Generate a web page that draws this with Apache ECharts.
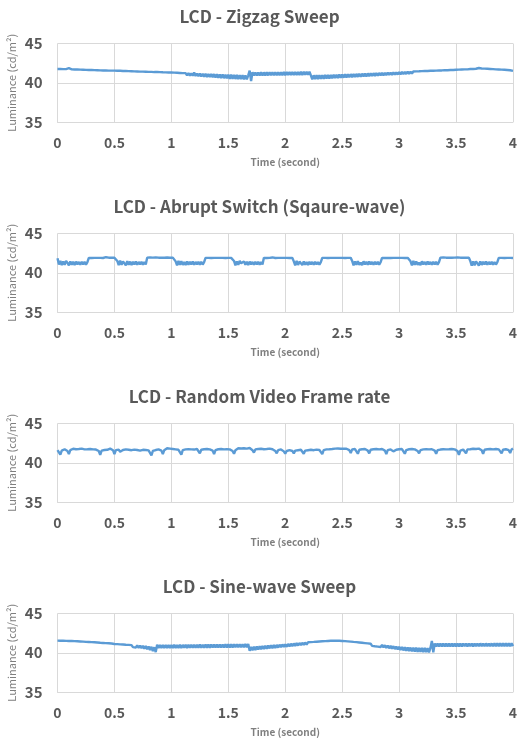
<!DOCTYPE html>
<html>
<head>
<meta charset="utf-8">
<script src="https://cdn.jsdelivr.net/npm/echarts@6/dist/echarts.min.js"></script>
<style>
  html, body { margin: 0; padding: 0; background: #fff; overflow: hidden; }
  #chart { width: 519px; height: 743px; }
</style>
</head>
<body>
<div id="chart"></div>
<script>
// luminance samples, one every 0.0125 s from 0 to 4 s
let sampleStep = 0.0125;

let panelTitles = ['LCD - Zigzag Sweep', 'LCD - Abrupt Switch (Sqaure-wave)', 'LCD - Random Video Frame rate', 'LCD - Sine-wave Sweep'];
let yTicks = [35, 40, 45];
let xTicks = [0, 0.5, 1, 1.5, 2, 2.5, 3, 3.5, 4];

let zigzag = [
  41.76, 41.68, 41.75, 41.67, 41.74, 41.66, 41.73, 41.65, 41.85, 41.64,
  41.70, 41.62, 41.69, 41.61, 41.68, 41.60, 41.67, 41.59, 41.66, 41.57,
  41.64, 41.56, 41.63, 41.55, 41.62, 41.54, 41.61, 41.53, 41.60, 41.51,
  41.58, 41.50, 41.57, 41.49, 41.56, 41.48, 41.55, 41.47, 41.54, 41.45,
  41.54, 41.42, 41.53, 41.41, 41.52, 41.39, 41.50, 41.38, 41.49, 41.36,
  41.48, 41.34, 41.47, 41.33, 41.45, 41.31, 41.44, 41.29, 41.42, 41.28,
  41.42, 41.26, 41.41, 41.25, 41.39, 41.23, 41.38, 41.22, 41.36, 41.20,
  41.36, 41.18, 41.35, 41.17, 41.33, 41.15, 41.32, 41.13, 41.30, 41.12,
  41.30, 41.10, 41.29, 41.07, 41.27, 41.04, 41.25, 41.02, 41.23, 40.99,
  41.23, 40.95, 41.22, 40.92, 41.20, 40.90, 41.30, 40.87, 41.16, 40.84,
  41.16, 40.80, 41.15, 40.78, 41.13, 40.75, 41.12, 40.72, 41.10, 40.70,
  41.10, 40.67, 41.09, 40.64, 41.07, 40.61, 41.06, 40.58, 41.04, 40.55,
  41.03, 40.51, 41.02, 40.50, 41.01, 40.48, 41.00, 40.46, 40.98, 40.45,
  40.96, 40.43, 40.95, 40.42, 40.94, 41.55, 40.22, 41.35, 40.92, 41.32,
  40.93, 41.32, 40.92, 41.33, 40.93, 41.32, 40.94, 41.33, 40.94, 41.34,
  40.95, 41.34, 40.95, 41.35, 40.96, 41.34, 40.96, 41.35, 40.97, 41.36,
  40.97, 41.36, 40.98, 41.37, 40.98, 41.37, 40.99, 41.38, 40.99, 41.38,
  41.00, 41.39, 41.00, 41.40, 41.01, 41.40, 41.02, 41.41, 41.40, 40.45,
  40.95, 40.47, 40.96, 40.48, 40.97, 40.50, 40.98, 40.51, 40.99, 40.53,
  40.99, 40.55, 41.00, 40.57, 41.02, 40.59, 41.03, 40.61, 41.04, 40.63,
  41.05, 40.65, 41.07, 40.67, 41.08, 40.69, 41.10, 40.71, 41.11, 40.73,
  41.13, 40.75, 41.14, 40.77, 41.16, 40.79, 41.17, 40.81, 41.19, 40.83,
  41.20, 40.86, 41.22, 40.88, 41.23, 40.90, 41.25, 40.92, 41.26, 40.94,
  41.27, 40.97, 41.29, 40.99, 41.30, 41.01, 41.32, 41.03, 41.33, 41.05,
  41.36, 41.08, 41.37, 41.10, 41.39, 41.12, 41.40, 41.14, 41.42, 41.16,
  41.43, 41.19, 41.45, 41.21, 41.46, 41.23, 41.48, 41.25, 41.49, 41.27,
  41.50, 41.30, 41.52, 41.32, 41.53, 41.34, 41.55, 41.36, 41.56, 41.38,
  41.57, 41.39, 41.59, 41.41, 41.60, 41.43, 41.62, 41.45, 41.63, 41.47,
  41.66, 41.50, 41.67, 41.52, 41.69, 41.54, 41.70, 41.56, 41.71, 41.58,
  41.75, 41.61, 41.76, 41.63, 41.78, 41.65, 41.88, 41.68, 41.82, 41.70,
  41.80, 41.68, 41.78, 41.66, 41.76, 41.64, 41.74, 41.62, 41.71, 41.59,
  41.69, 41.57, 41.67, 41.55, 41.65, 41.53, 41.62, 41.50, 41.59, 41.47,
  41.52
];

let squareWave = [
  41.85, 41.05, 41.50, 40.98, 41.45, 41.00, 41.52, 41.25, 40.95, 41.45, 41.02, 41.40, 41.00, 41.42, 41.05, 41.38, 41.02, 41.40, 41.05, 41.38, 41.04, 41.36,
  41.90, 41.93, 41.88, 41.92, 41.90, 41.95, 41.89, 41.92, 41.90, 41.93, 41.88, 41.92, 41.98, 41.90, 41.92, 41.89, 41.93, 41.90, 41.92, 41.88,
  41.50, 40.98, 41.55, 41.00, 41.45, 41.30, 40.95, 41.48, 41.02, 41.42, 41.00, 41.40, 41.05, 41.42, 41.02, 41.38, 41.05, 41.40, 41.03, 41.36, 41.05,
  41.92, 41.90, 41.95, 41.88, 41.92, 41.90, 41.96, 41.90, 41.92, 41.88, 41.93, 41.90, 41.92, 41.89, 41.94, 41.90, 41.92, 41.88, 41.93, 41.90,
  41.45, 40.95, 41.50, 41.02, 41.48, 41.00, 41.35, 40.98, 41.45, 41.02, 41.40, 41.05, 41.42, 41.02, 41.38, 41.05, 41.40, 41.04, 41.38, 41.05, 41.35,
  41.90, 41.93, 41.90, 41.95, 41.88, 41.92, 41.90, 41.93, 41.89, 41.92, 41.90, 41.97, 41.90, 41.92, 41.88, 41.93, 41.90, 41.92, 41.90, 41.93,
  41.50, 40.95, 41.45, 41.00, 41.52, 41.20, 40.98, 41.45, 41.02, 41.40, 41.00, 41.42, 41.05, 41.38, 41.02, 41.40, 41.05, 41.38, 41.03, 41.36, 41.05,
  41.90, 41.92, 41.88, 41.93, 41.90, 41.92, 41.95, 41.90, 41.88, 41.92, 41.90, 41.93, 41.89, 41.92, 41.90, 41.96, 41.90, 41.92, 41.88, 41.93, 41.90,
  41.45, 40.95, 41.50, 41.00, 41.42, 41.25, 40.98, 41.45, 41.02, 41.38, 41.00, 41.40, 41.05, 41.38, 41.02, 41.40, 41.05, 41.36, 41.04, 41.35,
  41.90, 41.92, 41.90, 41.95, 41.88, 41.92, 41.90, 41.93, 41.90, 41.92, 41.89, 41.93, 41.90, 41.97, 41.90, 41.92, 41.88, 41.93, 41.90, 41.92, 41.90,
  41.50, 40.95, 41.45, 41.00, 41.48, 41.02, 41.30, 40.98, 41.45, 41.05, 41.40, 41.02, 41.42, 41.05, 41.38, 41.02, 41.40, 41.05, 41.38, 41.04, 41.35,
  41.90, 41.93, 41.88, 41.92, 41.90, 41.95, 41.88, 41.92, 41.90, 41.93, 41.89, 41.92, 41.90, 41.96, 41.90, 41.92, 41.88, 41.93, 41.90, 41.92,
  41.45, 40.95, 41.50, 41.00, 41.45, 41.02, 41.28, 40.98, 41.45, 41.05, 41.38, 41.02, 41.42, 41.05, 41.38, 41.02, 41.40, 41.05, 41.38, 41.04, 41.35,
  41.92, 41.90, 41.95, 41.88, 41.92, 41.90, 41.93, 41.90, 41.92, 41.88, 41.93, 41.90, 41.96, 41.89, 41.92, 41.90, 41.93, 41.88, 41.92, 41.90, 41.93,
  41.50, 40.90, 41.45, 40.95, 41.45, 41.20, 40.92, 41.45, 41.00, 41.40, 41.05, 41.42, 41.02, 41.38, 41.05, 41.40, 41.03, 41.36, 41.05, 41.35,
  41.90, 41.93, 41.90, 41.92, 41.88, 41.93, 41.90, 41.92, 41.89, 41.90, 41.88
];

let randomRate = [
  41.60, 41.70, 41.05, 41.55, 41.65, 41.72, 41.60, 41.50, 41.10, 41.60,
  41.70, 41.78, 41.65, 41.72, 41.60, 41.75, 41.68, 41.80, 41.62, 41.70,
  41.58, 41.72, 41.65, 41.75, 41.60, 41.70, 41.55, 41.68, 41.62, 41.50,
  41.00, 41.55, 41.70, 41.62, 41.78, 41.65, 41.72, 41.80, 41.68, 41.60,
  41.10, 41.60, 41.75, 41.68, 41.40, 41.15, 41.62, 41.75, 41.70, 41.78,
  41.65, 41.72, 41.60, 41.75, 41.68, 41.80, 41.62, 41.70, 41.55, 41.72,
  41.65, 41.78, 41.62, 41.70, 41.58, 41.40, 40.95, 41.50, 41.70, 41.62,
  41.78, 41.70, 41.82, 41.55, 41.10, 41.60, 41.78, 41.85, 41.72, 41.80,
  41.88, 41.75, 41.82, 41.70, 41.80, 41.65, 41.45, 41.05, 41.60, 41.75,
  41.70, 41.82, 41.72, 41.85, 41.70, 41.78, 41.68, 41.82, 41.75, 41.60,
  41.20, 41.65, 41.80, 41.72, 41.85, 41.75, 41.82, 41.70, 41.80, 41.55,
  41.10, 41.60, 41.80, 41.72, 41.88, 41.75, 41.82, 41.70, 41.85, 41.72,
  41.80, 41.70, 41.78, 41.50, 41.15, 41.60, 41.78, 41.85, 41.72, 41.82,
  41.70, 41.85, 41.75, 41.80, 41.72, 41.88, 41.78, 41.60, 41.30, 41.70,
  41.82, 41.75, 41.88, 41.78, 41.85, 41.72, 41.82, 41.75, 41.88, 41.80,
  41.85, 41.72, 41.80, 41.50, 41.20, 41.60, 41.78, 41.70, 41.60, 41.45,
  41.15, 41.50, 41.70, 41.60, 41.72, 41.50, 41.20, 41.55, 41.68, 41.60,
  41.72, 41.65, 41.50, 41.15, 41.55, 41.70, 41.60, 41.75, 41.65, 41.72,
  41.60, 41.78, 41.68, 41.75, 41.62, 41.45, 41.10, 41.60, 41.75, 41.70,
  41.82, 41.72, 41.85, 41.75, 41.88, 41.80, 41.92, 41.82, 41.88, 41.78,
  41.90, 41.80, 41.88, 41.78, 41.85, 41.60, 41.25, 41.70, 41.82, 41.75,
  41.50, 41.15, 41.65, 41.80, 41.72, 41.85, 41.75, 41.82, 41.55, 41.20,
  41.65, 41.80, 41.72, 41.85, 41.75, 41.82, 41.70, 41.85, 41.75, 41.80,
  41.55, 41.10, 41.60, 41.78, 41.70, 41.75, 41.45, 41.20, 41.65, 41.80,
  41.72, 41.85, 41.75, 41.60, 41.15, 41.62, 41.80, 41.72, 41.85, 41.75,
  41.82, 41.70, 41.78, 41.50, 41.20, 41.60, 41.78, 41.70, 41.85, 41.72,
  41.80, 41.70, 41.85, 41.72, 41.78, 41.55, 41.15, 41.60, 41.75, 41.68,
  41.82, 41.72, 41.85, 41.70, 41.80, 41.72, 41.85, 41.75, 41.82, 41.70,
  41.80, 41.50, 41.00, 41.55, 41.75, 41.68, 41.45, 41.20, 41.70, 41.80,
  41.72, 41.88, 41.78, 41.85, 41.75, 41.88, 41.80, 41.85, 41.60, 41.15,
  41.65, 41.80, 41.72, 41.85, 41.75, 41.82, 41.70, 41.85, 41.75, 41.82,
  41.70, 41.50, 41.20, 41.65, 41.80, 41.72, 41.85, 41.60, 41.25, 41.70,
  41.82
];

let sineSweep = [
  41.54, 41.47, 41.53, 41.46, 41.52, 41.45, 41.51, 41.44, 41.50, 41.43,
  41.49, 41.39, 41.48, 41.37, 41.46, 41.35, 41.44, 41.33, 41.42, 41.30,
  41.38, 41.27, 41.37, 41.25, 41.35, 41.22, 41.33, 41.20, 41.31, 41.16,
  41.27, 41.12, 41.25, 41.09, 41.23, 41.06, 41.21, 41.03, 41.18, 41.00,
  41.12, 40.93, 41.10, 40.90, 41.07, 40.87, 41.05, 40.84, 41.02, 40.80,
  41.00, 40.75, 40.97, 40.71, 40.95, 40.67, 40.93, 40.63, 40.90, 40.58,
  40.88, 40.52, 40.85, 40.45, 40.80, 40.35, 40.75, 40.20, 40.70, 40.08,
  41.02, 40.60, 41.00, 40.62, 41.00, 40.60, 40.98, 40.62, 41.00, 40.60,
  41.00, 40.62, 41.02, 40.60, 41.00, 40.62, 41.02, 40.62, 41.00, 40.63,
  41.02, 40.62, 41.02, 40.63, 41.03, 40.63, 41.02, 40.64, 41.03, 40.64,
  41.04, 40.64, 41.03, 40.65, 41.04, 40.65, 41.05, 40.65, 41.04, 40.66,
  41.05, 40.66, 41.06, 40.66, 41.05, 40.67, 41.06, 40.67, 41.07, 40.67,
  41.07, 40.68, 41.08, 40.68, 41.07, 40.69, 41.08, 40.69, 41.09, 40.69,
  41.09, 40.70, 41.10, 40.70, 41.10, 40.25, 40.75, 40.30, 40.78, 40.35,
  40.80, 40.40, 40.83, 40.44, 40.86, 40.48, 40.90, 40.52, 40.93, 40.56,
  40.95, 40.58, 40.98, 40.62, 41.00, 40.66, 41.03, 40.70, 41.06, 40.74,
  41.08, 40.76, 41.12, 40.80, 41.15, 40.84, 41.18, 40.88, 41.22, 40.92,
  41.24, 40.96, 41.27, 41.00, 41.30, 41.04, 41.33, 41.08, 41.36, 41.12,
  41.38, 41.15, 41.41, 41.19, 41.44, 41.22, 41.46, 41.26, 41.48, 41.30,
  41.50, 41.32, 41.52, 41.33, 41.53, 41.34, 41.53, 41.34, 41.52, 41.33,
  41.50, 41.31, 41.48, 41.28, 41.45, 41.25, 41.42, 41.22, 41.38, 41.18,
  41.35, 41.12, 41.31, 41.08, 41.27, 41.04, 41.23, 41.00, 41.19, 40.95,
  41.15, 40.87, 41.11, 40.82, 41.07, 40.78, 41.03, 40.73, 40.99, 40.68,
  40.96, 40.62, 40.92, 40.57, 40.88, 40.52, 40.84, 40.47, 40.80, 40.42,
  40.77, 40.35, 40.74, 40.30, 40.71, 40.26, 40.68, 40.22, 40.66, 40.18,
  40.65, 40.14, 40.64, 40.12, 40.63, 40.10, 40.62, 40.08, 40.62, 40.07,
  40.60, 40.05, 40.62, 41.50, 40.05, 41.18, 40.80, 41.17, 40.79, 41.18,
  40.80, 41.17, 40.79, 41.18, 40.80, 41.17, 40.80, 41.18, 40.81, 41.17,
  40.80, 41.18, 40.81, 41.17, 40.80, 41.18, 40.82, 41.18, 40.81, 41.17,
  40.82, 41.18, 40.81, 41.19, 40.82, 41.18, 40.82, 41.19, 40.83, 41.18,
  40.82, 41.19, 40.83, 41.18, 40.83, 41.19, 40.82, 41.20, 40.83, 41.19,
  40.84, 41.19, 40.83, 41.20, 40.84, 41.19, 40.84, 41.20, 40.85, 41.20,
  40.85
];

let panels = [zigzag, squareWave, randomRate, sineSweep];

let lineColor = '#5b9bd5';
let textColor = '#595959';
let nameColor = '#7f7f7f';
let gridColor = '#d9d9d9';
let fontName = '"Noto Sans CJK KR", "Noto Sans", sans-serif';

let chart = echarts.init(document.getElementById('chart'));

let titles = [], grids = [], xAxes = [], yAxes = [], series = [];

panels.forEach((values, k) => {
  let offset = k * 190;
  titles.push({
    text: panelTitles[k],
    left: 'center',
    top: 3 + offset,
    textStyle: { fontFamily: fontName, fontSize: 17, fontWeight: 'bold', color: textColor }
  });
  grids.push({ left: 57.5, right: 6, top: 43.5 + offset, height: 78.5, outerBoundsMode: 'none', containLabel: false });
  xAxes.push({
    type: 'value',
    gridIndex: k,
    min: xTicks[0],
    max: xTicks[xTicks.length - 1],
    interval: 0.5,
    name: 'Time (second)',
    nameLocation: 'middle',
    nameGap: 35,
    nameMoveOverlap: false,
    nameTextStyle: { fontFamily: fontName, fontSize: 10, fontWeight: 'bold', color: nameColor },
    axisLine: { show: true, lineStyle: { color: gridColor, width: 1 } },
    axisTick: { show: false },
    axisLabel: { fontFamily: fontName, fontSize: 14, fontWeight: 'bold', color: textColor, margin: 14 },
    splitLine: { show: true, lineStyle: { color: gridColor, width: 1 } }
  });
  yAxes.push({
    type: 'value',
    gridIndex: k,
    min: yTicks[0],
    max: yTicks[yTicks.length - 1],
    interval: 5,
    name: 'Luminance (cd/m²)',
    nameLocation: 'middle',
    nameGap: 40,
    nameMoveOverlap: false,
    nameTextStyle: { fontFamily: fontName, fontSize: 11, color: nameColor },
    axisLine: { show: false },
    axisTick: { show: false },
    axisLabel: { fontFamily: fontName, fontSize: 15, fontWeight: 'bold', color: textColor, margin: 15 },
    splitLine: { show: true, lineStyle: { color: gridColor, width: 1 } }
  });
  series.push({
    type: 'line',
    xAxisIndex: k,
    yAxisIndex: k,
    data: values.map((v, i) => [i * sampleStep, v]),
    showSymbol: false,
    symbol: 'none',
    lineStyle: { color: lineColor, width: 2.4 },
    itemStyle: { color: lineColor }
  });
});

chart.setOption({
  animation: false,
  backgroundColor: '#fff',
  title: titles,
  grid: grids,
  xAxis: xAxes,
  yAxis: yAxes,
  series: series
});
</script>
</body>
</html>
